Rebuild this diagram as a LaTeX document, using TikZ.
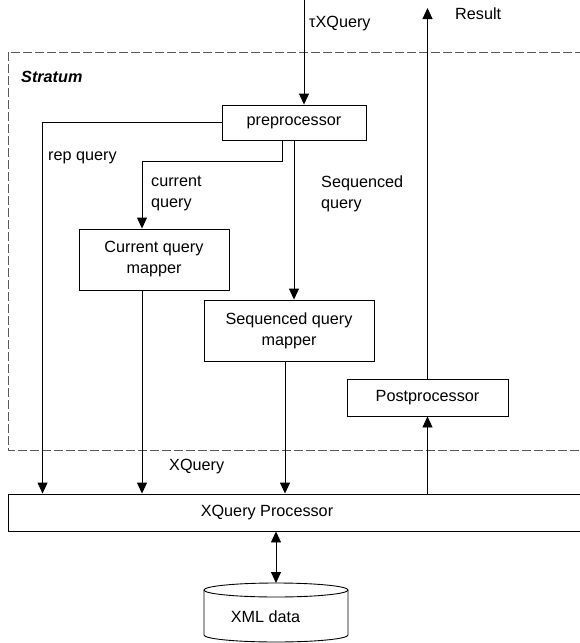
\documentclass[tikz,border=0pt]{standalone}
\usepackage{fontspec}
\setmainfont{Liberation Sans}
\usetikzlibrary{arrows.meta,positioning,calc}
\tikzset{
    % Processing box
    box/.style={draw,line width=0.9pt,align=center,inner sep=0pt},
    % Connector with filled head
    conn/.style={-{Triangle[length=11pt,width=10pt]},line width=0.9pt},
    % Free text label
    lbl/.style={anchor=west,align=left,inner sep=0pt},
    % Stratum frame
    frame/.style={draw=black!65,line width=0.9pt,dash pattern=on 9pt off 3pt}
}

\begin{document}
\begin{tikzpicture}[x=1pt,y=-1pt,font=\fontsize{16.2}{21}\selectfont]
    \useasboundingbox (0,0) rectangle (580,643);
    \clip (0,0) rectangle (580,643);

    % Stratum frame (runs off the right edge)
    \draw[frame] (8,52) rectangle (600,450);
    \node[lbl, font=\fontsize{16.2}{21}\selectfont\bfseries\itshape] (stratum) at (21,77) {Stratum};

    % Boxes
    \node[box, minimum width=144pt, minimum height=35pt] (pre) at (294,122.5) {preprocessor};
    \node[box, minimum width=150pt, minimum height=61pt] (cur) at (154,259.5) {Current query\\mapper};
    \node[box, minimum width=170pt, minimum height=61pt] (seq) at (289,330.5) {Sequenced query\\mapper};
    \node[box, minimum width=161pt, minimum height=37pt] (post) at (427.5,397.5) {Postprocessor};
    \node[box, minimum width=592pt, minimum height=37pt] (xqp) at (304,512.5) {\hspace*{-74pt}XQuery Processor};

    % Database cylinder
    \coordinate (db) at (276,583);
    \draw[line width=0.9pt] (204,590) -- (204,635)
        arc[start angle=180, end angle=0, x radius=72, y radius=7] -- (348,590);
    \draw[line width=0.9pt] (276,590) ellipse[x radius=72, y radius=7];
    \node[inner sep=0pt] (dbtext) at (265.5,617) {XML data};

    % Outside in/out
    \coordinate (in) at (304,0);
    \coordinate (res) at (427.5,8);

    % Connectors
    \draw[conn] (in) -- (in |- pre.north);
    \draw[conn] (post.north) -- (res);
    \draw[conn] (pre.west) -| ([xshift=35pt]xqp.north west);
    \draw[conn] ([xshift=-12pt]pre.south) -- ++(0,21) -| ([xshift=-12pt]cur.north);
    \draw[conn] (pre.south) -- (pre.south |- seq.north);
    \draw[conn] ([xshift=-12pt]cur.south) -- ([xshift=-12pt]cur.south |- xqp.north);
    \draw[conn] ([xshift=-4pt]seq.south) -- ([xshift=-4pt]seq.south |- xqp.north);
    \draw[conn] (post.south |- xqp.north) -- (post.south);
    \draw[conn, {Triangle[length=11pt,width=10pt]}-{Triangle[length=11pt,width=10pt]}] (db |- xqp.south) -- (db);

    % Labels
    \node[lbl] (lin) at (309,24) {τXQuery};
    \node[lbl] (lres) at (455,14) {Result};
    \node[lbl] (lrep) at (48,158) {rep query};
    \node[lbl] (lcur) at (151,193.5) {current\\query};
    \node[lbl] (lseq) at (321,193.5) {Sequenced\\query};
    \node[lbl] (lxq) at (169,467) {XQuery};
\end{tikzpicture}
\end{document}
